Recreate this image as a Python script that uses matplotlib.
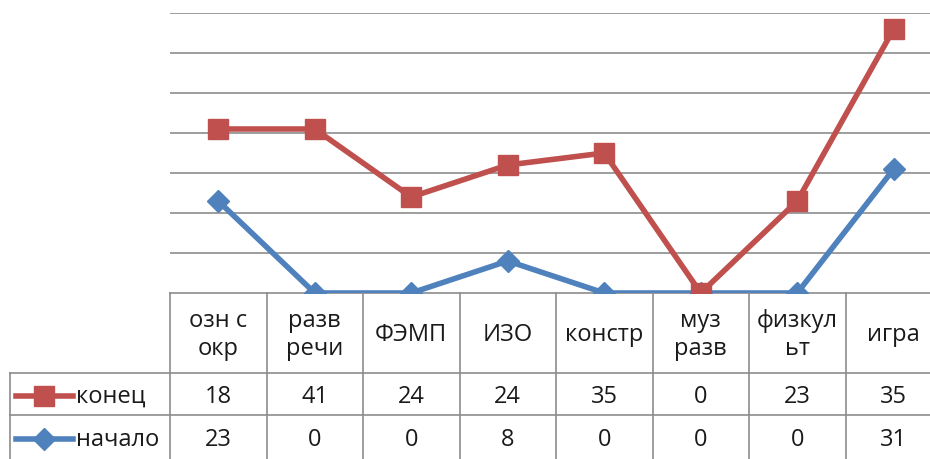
import numpy as np
import matplotlib
matplotlib.use('Agg')
import matplotlib.pyplot as plt
from matplotlib.lines import Line2D
import matplotlib.transforms as mtransforms

plt.rcParams['font.family'] = ['Open Sans', 'DejaVu Sans']

categories = ['озн с\nокр', 'разв\nречи', 'ФЭМП', 'ИЗО', 'констр', 'муз\nразв', 'физкул\nьт', 'игра']
nachalo = [23, 0, 0, 8, 0, 0, 0, 31]
konets = [18, 41, 24, 24, 35, 0, 23, 35]

RED = '#C0504D'
BLUE = '#4F81BD'
GRID = '#8C8C8C'
TXT = '#1A1A1A'
FS = 17

W, H = 930, 459


def fx(px):
    return px / W


def fy(py):
    return 1 - py / H


fig = plt.figure(figsize=(W / 100, H / 100), dpi=100)
# plot area: x 170..942 px, y 13..293 px (extends past the right edge like the source)
ax = fig.add_axes([fx(170), fy(293), fx(942) - fx(170), fy(13) - fy(293)])

x = np.arange(len(categories))
# stacked line chart: конец is drawn on top of начало
stacked = np.array(nachalo) + np.array(konets)

ax.plot(x, nachalo, color=BLUE, lw=4, marker='D', ms=11, mfc=BLUE, mec=BLUE, zorder=3)
ax.plot(x, stacked, color=RED, lw=4, marker='s', ms=14, mfc=RED, mec=RED, zorder=4)

ax.set_xlim(-0.5, len(categories) - 0.5)
ax.set_ylim(0, 70)
ax.set_yticks(np.arange(10, 71, 10))
ax.yaxis.grid(True, color=GRID, lw=1.2)
ax.set_axisbelow(True)
ax.tick_params(left=False, bottom=False, labelleft=False, labelbottom=False)
for s in ['top', 'right', 'left']:
    ax.spines[s].set_visible(False)
ax.spines['bottom'].set_color(GRID)
ax.spines['bottom'].set_linewidth(1.2)

# data table below the plot
trans = mtransforms.blended_transform_factory(ax.transData, fig.transFigure)
row1, row2, bottom = 373, 415, 459

for k in range(len(categories) + 1):
    xb = k - 0.5
    fig.add_artist(Line2D([xb, xb], [fy(293), fy(bottom)], transform=trans,
                          color=GRID, lw=1.2, clip_on=False))
for yy in (row1, row2):
    fig.add_artist(Line2D([fx(10), fx(W)], [fy(yy), fy(yy)], transform=fig.transFigure,
                          color=GRID, lw=1.2))
fig.add_artist(Line2D([fx(10), fx(10)], [fy(row1), fy(bottom)], transform=fig.transFigure,
                      color=GRID, lw=1.2))

for i, cat in enumerate(categories):
    fig.text(i, fy(335), cat, transform=trans, ha='center', va='center',
             fontsize=FS, color=TXT, linespacing=1.25)
    fig.text(i, fy(397), str(konets[i]), transform=trans, ha='center', va='center',
             fontsize=FS, color=TXT)
    fig.text(i, fy(440), str(nachalo[i]), transform=trans, ha='center', va='center',
             fontsize=FS, color=TXT)

# legend keys inside the table
for yy, col, mk, ms, lab in [(396, RED, 's', 14, 'конец'), (439, BLUE, 'D', 11, 'начало')]:
    fig.add_artist(Line2D([fx(16), fx(73)], [fy(yy), fy(yy)], transform=fig.transFigure,
                          color=col, lw=4))
    fig.add_artist(Line2D([fx(44)], [fy(yy)], transform=fig.transFigure, marker=mk,
                          ms=ms, mfc=col, mec=col, lw=0))
    fig.text(fx(76), fy(yy + 1), lab, ha='left', va='center', fontsize=FS, color=TXT)

fig.savefig('out.png', dpi=100)
